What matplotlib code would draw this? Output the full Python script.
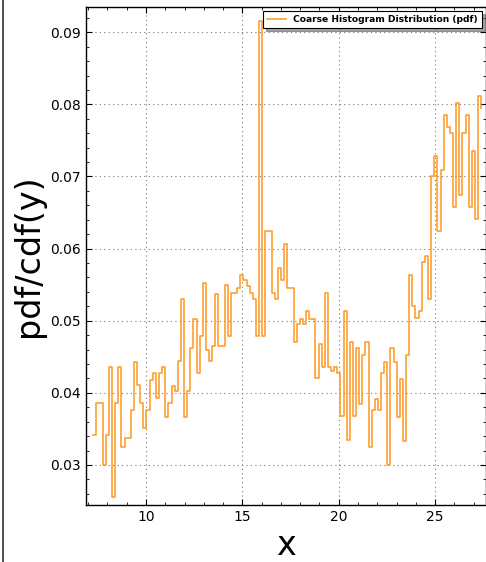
import numpy as np
import matplotlib
matplotlib.use("Agg")
import matplotlib.pyplot as plt
from matplotlib.lines import Line2D
from matplotlib.ticker import MultipleLocator

x_start = 7.27
x_stop = 27.39
pdf_values = [
    0.0342, 0.0386, 0.0386, 0.0300, 0.0342, 0.0436, 0.0256, 0.0386, 0.0436, 0.0325,
    0.0337, 0.0337, 0.0376, 0.0443, 0.0411, 0.0386, 0.0351, 0.0376, 0.0418, 0.0428,
    0.0393, 0.0428, 0.0436, 0.0367, 0.0386, 0.0410, 0.0402, 0.0444, 0.0530, 0.0367,
    0.0402, 0.0462, 0.0502, 0.0428, 0.0479, 0.0552, 0.0460, 0.0444, 0.0465, 0.0537,
    0.0465, 0.0465, 0.0550, 0.0479, 0.0538, 0.0538, 0.0546, 0.0564, 0.0557, 0.0548,
    0.0538, 0.0530, 0.0479, 0.0915, 0.0479, 0.0624, 0.0624, 0.0538, 0.0530, 0.0573,
    0.0556, 0.0606, 0.0546, 0.0546, 0.0470, 0.0496, 0.0503, 0.0496, 0.0513, 0.0503,
    0.0503, 0.0420, 0.0468, 0.0436, 0.0538, 0.0436, 0.0430, 0.0436, 0.0428, 0.0368,
    0.0513, 0.0334, 0.0470, 0.0368, 0.0462, 0.0385, 0.0453, 0.0470, 0.0325, 0.0376,
    0.0392, 0.0376, 0.0427, 0.0443, 0.0300, 0.0462, 0.0443, 0.0367, 0.0419, 0.0333,
    0.0453, 0.0564, 0.0521, 0.0504, 0.0513, 0.0581, 0.0590, 0.0530, 0.0701, 0.0728,
    0.0624, 0.0709, 0.0785, 0.0768, 0.0760, 0.0658, 0.0802, 0.0674, 0.0760, 0.0785,
    0.0658, 0.0735, 0.0641, 0.0812, 0.0795,
]
x_ticks = [10, 15, 20, 25]
y_ticks = [0.03, 0.04, 0.05, 0.06, 0.07, 0.08, 0.09]
legend_label = "Coarse Histogram Distribution (pdf)"

xs = np.linspace(x_start, x_stop, len(pdf_values))

fig = plt.figure(figsize=(4.86, 5.62), dpi=100, facecolor="white")
ax = fig.add_axes([86 / 486, 57 / 562, 1 - 86 / 486, 498 / 562])
ax.step(xs, pdf_values, where="post", color="#ff9a26", lw=1.2, alpha=0.95,
        label=legend_label, zorder=3)

ax.set_xlim(6.89, 27.64)
ax.set_ylim(0.02445, 0.0935)
ax.set_xticks(x_ticks)
ax.set_yticks(y_ticks)
ax.xaxis.set_minor_locator(MultipleLocator(1))
ax.yaxis.set_minor_locator(MultipleLocator(0.002))
ax.tick_params(which="both", direction="in", top=True, right=True, labelsize=10)
ax.tick_params(which="major", length=4)
ax.tick_params(which="minor", length=2)
ax.grid(True, which="major", color="#777777", linestyle=(0, (1, 3)), linewidth=0.8)
for s in ax.spines.values():
    s.set_linewidth(1.0)

ax.set_xlabel("x", fontsize=24)
ax.set_ylabel("pdf/cdf(y)", fontsize=24)

leg = ax.legend(loc="upper right", prop={"size": 6.6, "weight": "bold"},
                frameon=True, fancybox=False, shadow=True, borderaxespad=0.45,
                handlelength=2.0, borderpad=0.45)
leg.get_frame().set_edgecolor("black")
leg.get_frame().set_linewidth(0.8)

fig.add_artist(Line2D([2.5 / 486, 2.5 / 486], [0, 1], color="#333333", lw=1.2,
                      transform=fig.transFigure))

fig.savefig("out.png", dpi=100, facecolor="white")
